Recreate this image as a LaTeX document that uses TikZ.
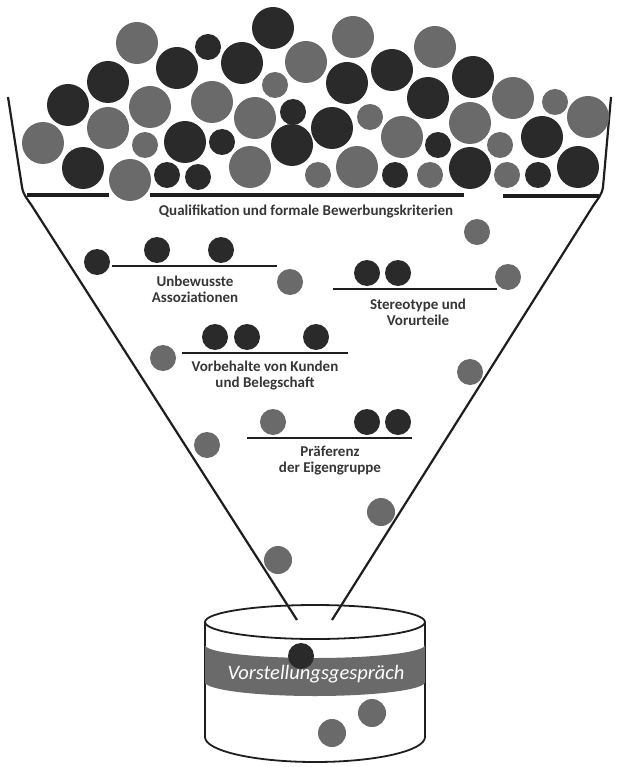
\documentclass[tikz,border=0pt]{standalone}
\usepackage{fontspec}
\setmainfont{Carlito}
\definecolor{ballDark}{HTML}{2A2A2A}
\definecolor{ballGray}{HTML}{6A6A6A}
\definecolor{lineDark}{HTML}{1E1E1E}
\definecolor{txtDark}{HTML}{363636}
\newcommand{\mkball}[4]{\fill[#4] (#1,#2) circle[radius=#3];}
\begin{document}
\begin{tikzpicture}[x=1pt,y=-1pt,
  dk/.style={ballDark},
  gr/.style={ballGray},
  shelf/.style={draw=lineDark,line width=4.5pt},
  bar/.style={draw=lineDark,line width=2.6pt},
  funnel/.style={draw=lineDark,line width=2.2pt,line join=round},
  cyl/.style={draw=lineDark,line width=1.8pt},
  lbl/.style={text=txtDark,font=\fontsize{15}{16}\selectfont\bfseries,align=center,inner sep=0pt}]
\useasboundingbox (0,0) rectangle (616,767);
\fill[white] (0,0) rectangle (616,767);
% ---------- funnel walls ----------
\coordinate (lt) at (8,97);
\coordinate (lb) at (297,620);
\coordinate (rt) at (611,97);
\coordinate (rb) at (332,620);
% ---------- cylinder ----------
\draw[cyl,fill=white] (315,737) ellipse[x radius=110,y radius=25];
\fill[white] (205,622) rectangle (425,737);
\draw[cyl] (205,622) -- (205,737);
\draw[cyl] (425,622) -- (425,737);
\fill[ballGray] (205,645) arc[start angle=180,end angle=0,x radius=110,y radius=13]
  -- (425,682) arc[start angle=0,end angle=180,x radius=110,y radius=14] -- cycle;
\draw[cyl,fill=white] (315,622) ellipse[x radius=110,y radius=17];
\draw[funnel] (lt) -- (22,187) to[out=-81,in=123] (32,206) -- (lb);
\draw[funnel] (rt) -- (603,187) to[out=-99,in=57] (593,206) -- (rb);
\mkball{301}{656}{13}{dk}
\node[text=white,font=\fontsize{20.5}{22}\selectfont\itshape,inner sep=0pt] (vg) at (316,674) {Vorstellungsgespräch};
\mkball{372}{713}{14}{gr}
\mkball{332}{733}{14}{gr}
% ---------- pile of balls ----------
\mkball{137}{43}{21}{gr}
\mkball{208}{47}{13}{dk}
\mkball{273}{28}{21}{dk}
\mkball{177}{68}{21}{dk}
\mkball{242}{63}{21}{dk}
\mkball{306}{62}{21}{gr}
\mkball{108}{82}{21}{dk}
\mkball{275}{85}{13}{gr}
\mkball{68}{105}{21}{dk}
\mkball{150}{107}{21}{gr}
\mkball{212}{102}{21}{gr}
\mkball{108}{128}{21}{gr}
\mkball{255}{118}{21}{gr}
\mkball{293}{112}{13}{dk}
\mkball{43}{143}{21}{gr}
\mkball{145}{145}{13}{gr}
\mkball{185}{142}{21}{dk}
\mkball{222}{142}{13}{dk}
\mkball{292}{145}{21}{dk}
\mkball{83}{168}{21}{dk}
\mkball{130}{180}{21}{gr}
\mkball{167}{175}{13}{dk}
\mkball{198}{177}{13}{dk}
\mkball{250}{167}{21}{gr}
\mkball{318}{175}{13}{gr}
\mkball{353}{37}{21}{gr}
\mkball{435}{47}{21}{gr}
\mkball{347}{83}{21}{dk}
\mkball{392}{70}{21}{dk}
\mkball{473}{77}{21}{dk}
\mkball{428}{98}{21}{dk}
\mkball{513}{98}{21}{gr}
\mkball{555}{102}{13}{gr}
\mkball{332}{128}{21}{dk}
\mkball{370}{117}{13}{gr}
\mkball{402}{137}{21}{gr}
\mkball{470}{123}{21}{gr}
\mkball{438}{145}{13}{dk}
\mkball{588}{117}{21}{gr}
\mkball{542}{137}{21}{dk}
\mkball{500}{145}{13}{gr}
\mkball{357}{167}{21}{gr}
\mkball{395}{175}{13}{dk}
\mkball{430}{175}{13}{gr}
\mkball{470}{168}{21}{dk}
\mkball{507}{175}{13}{gr}
\mkball{538}{175}{13}{dk}
\mkball{578}{167}{21}{dk}
% ---------- shelves ----------
\coordinate (s1a) at (27,195); \coordinate (s1b) at (109,195);
\coordinate (s2a) at (150,195); \coordinate (s2b) at (464,195);
\coordinate (s3a) at (503,196); \coordinate (s3b) at (599,196);
\draw[shelf] (s1a) -- (s1b);
\draw[shelf] (s2a) -- (s2b);
\draw[shelf] (s3a) -- (s3b);
\node[lbl] (q) at (306,211) {Qualifikation und formale Bewerbungskriterien};
% ---------- filters ----------
\mkball{477}{232}{13}{gr}
\mkball{97}{262}{13}{dk}
\mkball{157}{250}{13}{dk}
\mkball{221}{250}{13}{dk}
\coordinate (b1a) at (112,266); \coordinate (b1b) at (277,266);
\draw[bar] (b1a) -- (b1b);
\node[lbl] (ua) at (195,289) {Unbewusste\\Assoziationen};
\mkball{290}{282}{13}{gr}
\mkball{367}{273}{13}{dk}
\mkball{398}{273}{13}{dk}
\coordinate (b2a) at (333,289); \coordinate (b2b) at (497,289);
\draw[bar] (b2a) -- (b2b);
\mkball{508}{277}{13}{gr}
\node[lbl] (sv) at (418,312) {Stereotype und\\Vorurteile};
\mkball{215}{337}{13}{dk}
\mkball{247}{337}{13}{dk}
\mkball{316}{337}{13}{dk}
\coordinate (b3a) at (182,353); \coordinate (b3b) at (348,353);
\draw[bar] (b3a) -- (b3b);
\mkball{163}{358}{13}{gr}
\node[lbl] (vk) at (265,376) {Vorbehalte von Kunden\\und Belegschaft};
\mkball{470}{372}{13}{gr}
\mkball{273}{422}{13}{gr}
\mkball{367}{422}{13}{dk}
\mkball{398}{422}{13}{dk}
\coordinate (b4a) at (247,438); \coordinate (b4b) at (412,438);
\draw[bar] (b4a) -- (b4b);
\mkball{207}{445}{13}{gr}
\node[lbl] (pe) at (330,461) {Präferenz\\der Eigengruppe};
\mkball{381}{512}{14}{gr}
\mkball{278}{560}{14}{gr}
\end{tikzpicture}
\end{document}
